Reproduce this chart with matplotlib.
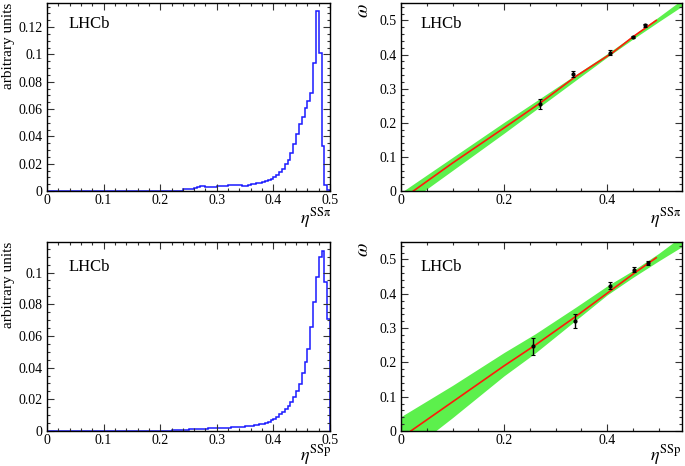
import numpy as np
import matplotlib
matplotlib.use("Agg")
import matplotlib.pyplot as plt
from matplotlib.ticker import MultipleLocator, FuncFormatter

plt.rcParams["font.family"] = ["Liberation Serif", "DejaVu Serif"]
plt.rcParams["mathtext.fontset"] = "stix"

# ---- eta distributions (100 bins, 0 - 0.5) ----------------------------
edges = np.linspace(0.0, 0.5, 101)

hist_sspi = (
    [0.0] * 30 + [0.0001] * 10 + [0.0002] * 8
    + [0.0012, 0.0013, 0.0015, 0.0018, 0.0022, 0.0026, 0.0033, 0.0035,
       0.0028, 0.0026, 0.0027, 0.0030, 0.0033, 0.0036, 0.0040, 0.0039,
       0.0042, 0.0044, 0.0045, 0.0044, 0.0041, 0.0040, 0.0040, 0.0043,
       0.0048, 0.0053, 0.0058, 0.0062, 0.0066, 0.0070, 0.0078, 0.0090,
       0.0103, 0.0115, 0.0140, 0.0164, 0.0196, 0.0225, 0.0279, 0.0347,
       0.0420, 0.0494, 0.0543, 0.0604, 0.0658, 0.0714, 0.0934, 0.1317,
       0.1010, 0.0328, 0.0047, 0.0004]
)

hist_ssp = (
    [0.0] * 20 + [0.0001] * 20
    + [0.0002, 0.0002, 0.0003, 0.0003, 0.0004, 0.0005, 0.0006, 0.0007,
       0.0008, 0.0009, 0.0010, 0.0010, 0.0011, 0.0012, 0.0013, 0.0014,
       0.0015, 0.0016, 0.0017, 0.0018, 0.0019, 0.0020, 0.0021, 0.0021,
       0.0022, 0.0023, 0.0024, 0.0025, 0.0026, 0.0027, 0.0029, 0.0031,
       0.0034, 0.0036, 0.0038, 0.0042, 0.0046, 0.0050, 0.0057, 0.0067,
       0.0078, 0.0090, 0.0107, 0.0118, 0.0139, 0.0160, 0.0185, 0.0216,
       0.0254, 0.0296, 0.0363, 0.0437, 0.0515, 0.0657, 0.0815, 0.0972,
       0.1100, 0.1134, 0.0940, 0.0710]
)

# ---- calibration: measured omega in eta bins ---------------------------
eta_pts_sspi = [0.269, 0.3335, 0.4045, 0.4497, 0.474]
om_pts_sspi = [0.256, 0.344, 0.405, 0.451, 0.4855]
om_err_sspi = [0.015, 0.009, 0.007, 0.004, 0.004]

eta_pts_ssp = [0.256, 0.338, 0.4045, 0.451, 0.48]
om_pts_ssp = [0.2475, 0.321, 0.4236, 0.4706, 0.490]
om_err_ssp = [0.0245, 0.021, 0.010, 0.007, 0.005]

# red curve (omega vs eta)
curve_eta_sspi = [0.024, 0.1, 0.2, 0.27, 0.34, 0.41, 0.45, 0.495]
curve_om_sspi = [0.0, 0.082, 0.185, 0.258, 0.337, 0.405, 0.452, 0.500]
curve_eta_ssp = [0.019, 0.1, 0.2, 0.26, 0.34, 0.41, 0.455, 0.495]
curve_om_ssp = [0.0, 0.085, 0.19, 0.25, 0.335, 0.413, 0.463, 0.505]

# green band: centre and half width
band_eta_sspi = [0.0, 0.1, 0.2, 0.27, 0.34, 0.4, 0.45, 0.5, 0.55]
band_mid_sspi = [-0.0265, 0.0795, 0.1855, 0.2597, 0.3339, 0.3975, 0.4505, 0.5035, 0.5565]
band_half_sspi = [0.022, 0.019, 0.016, 0.012, 0.008, 0.005, 0.005, 0.007, 0.010]

band_eta_ssp = [0.0, 0.1, 0.2, 0.26, 0.34, 0.4, 0.45, 0.5, 0.55]
band_mid_ssp = [-0.018, 0.086, 0.195, 0.255, 0.343, 0.410, 0.458, 0.507, 0.558]
band_half_ssp = [0.060, 0.047, 0.034, 0.028, 0.019, 0.013, 0.010, 0.011, 0.016]

BLUE = "#1a1aff"
GREEN = "#5cf04c"
RED = "#ff1a0a"

fmt = FuncFormatter(lambda v, _: f"{v:g}")


def style_axes(ax, xmaj, xmin, ymaj, ymin):
    ax.xaxis.set_major_locator(MultipleLocator(xmaj))
    ax.xaxis.set_minor_locator(MultipleLocator(xmin))
    ax.yaxis.set_major_locator(MultipleLocator(ymaj))
    ax.yaxis.set_minor_locator(MultipleLocator(ymin))
    ax.xaxis.set_major_formatter(fmt)
    ax.yaxis.set_major_formatter(fmt)
    ax.tick_params(which="both", direction="in", top=True, right=True,
                   labelsize=10, width=0.8, color="#333333")
    ax.tick_params(which="major", length=5, pad=3)
    ax.tick_params(axis="x", which="major", pad=2)
    ax.tick_params(which="minor", length=2.5)
    for s in ax.spines.values():
        s.set_linewidth(1.0)


fig = plt.figure(figsize=(6.85, 4.66), dpi=100)
W, H = 685, 466


def add_ax(x0, y0, x1, y1):
    return fig.add_axes([x0 / W, 1 - y1 / H, (x1 - x0) / W, (y1 - y0) / H])


ax_h1 = add_ax(47, 3, 330, 191)
ax_c1 = add_ax(401, 3, 682, 191)
ax_h2 = add_ax(47, 242, 330, 431)
ax_c2 = add_ax(401, 242, 682, 431)

# ---- histograms --------------------------------------------------------
for ax, vals, ymax, lab, ly, lb in [
    (ax_h1, hist_sspi, 0.1376, r"$\eta^{\rm SS\pi}$", 0.93, -0.175),
    (ax_h2, hist_ssp, 0.1193, r"$\eta^{\rm SSp}$", 0.91, -0.158),
]:
    ax.stairs(vals, edges, color=BLUE, linewidth=1.1)
    ax.set_xlim(0, 0.5)
    ax.set_ylim(0, ymax)
    style_axes(ax, 0.1, 0.02, 0.02, 0.005)
    ax.text(0.075, ly, "LHCb", transform=ax.transAxes, fontsize=12,
            ha="left", va="top")
    ax.text(1.005, lb, lab, transform=ax.transAxes, fontsize=13,
            ha="right", va="baseline")
    ax.text(-0.135, 1.0, "arbitrary units", transform=ax.transAxes,
            fontsize=11, rotation=90, ha="center", va="top")

# ---- calibration plots -------------------------------------------------
for ax, be, bm, bh, ce, co, pe, po, perr, lab, ly, lb in [
    (ax_c1, band_eta_sspi, band_mid_sspi, band_half_sspi,
     curve_eta_sspi, curve_om_sspi, eta_pts_sspi, om_pts_sspi, om_err_sspi,
     r"$\eta^{\rm SS\pi}$", 0.93, -0.175),
    (ax_c2, band_eta_ssp, band_mid_ssp, band_half_ssp,
     curve_eta_ssp, curve_om_ssp, eta_pts_ssp, om_pts_ssp, om_err_ssp,
     r"$\eta^{\rm SSp}$", 0.91, -0.158),
]:
    bm = np.array(bm)
    bh = np.array(bh)
    ax.fill_between(be, bm - bh, bm + bh, color=GREEN, linewidth=0)
    ax.plot(ce, co, color=RED, linewidth=1.2)
    ax.errorbar(pe, po, yerr=perr, fmt="o", color="black", markersize=2,
                elinewidth=1.0, capsize=1.5, capthick=0.8)
    ax.set_xlim(0, 0.545)
    ax.set_ylim(0, 0.551)
    style_axes(ax, 0.2, 0.05, 0.1, 0.02)
    ax.text(0.068, ly, "LHCb", transform=ax.transAxes, fontsize=12,
            ha="left", va="top")
    ax.text(1.0, lb, lab, transform=ax.transAxes, fontsize=13,
            ha="right", va="baseline")
    ax.text(-0.132, 1.0, r"$\omega$", transform=ax.transAxes,
            fontsize=14, rotation=90, ha="center", va="top")

fig.savefig("out.png", dpi=100)
